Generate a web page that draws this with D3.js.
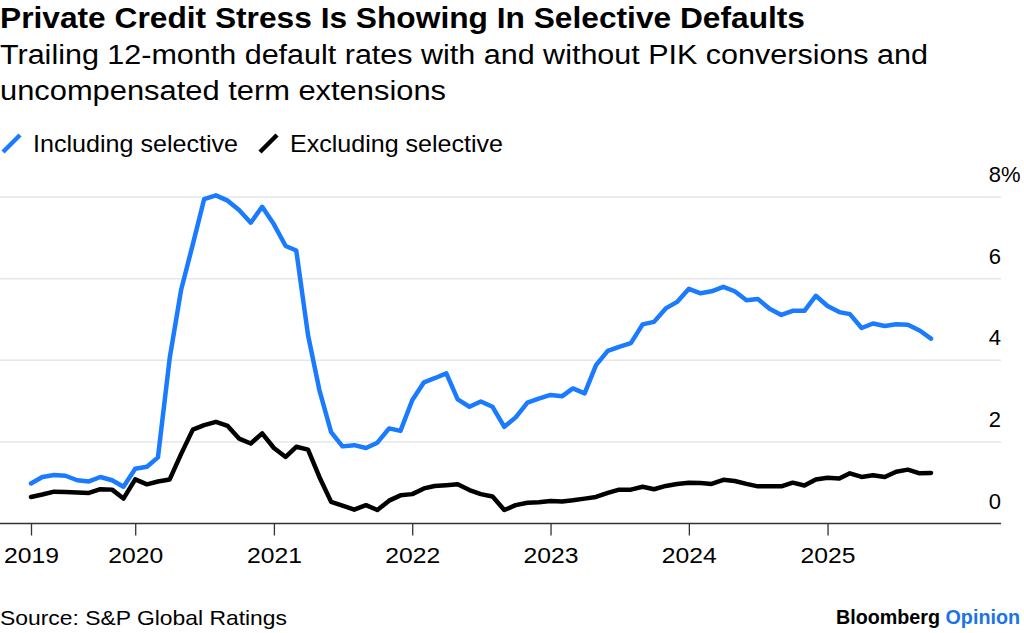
<!DOCTYPE html>
<html lang="en">
<head>
<meta charset="utf-8">
<script src="https://cdn.jsdelivr.net/npm/d3@7"></script>
<style>
  body { margin: 0; background: #fff; }
  svg { font-family: "Liberation Sans", Arial, sans-serif; }
</style>
</head>
<body>
<svg id="chart" width="1024" height="633"></svg>

<script>
  // monthly, Apr 2019 .. Oct 2025
  var startMonth = new Date(2019, 3, 1)
  var endMonth = new Date(2025, 10, 1)
  var months = d3.timeMonth.range(startMonth, endMonth)

  var including = [0.98, 1.14, 1.19, 1.17, 1.06, 1.03, 1.14, 1.06, 0.90, 1.34, 1.39, 1.62,
                   4.05, 5.72, 6.84, 7.95, 8.04, 7.91, 7.68, 7.37, 7.76, 7.33, 6.80, 6.69,
                   4.62, 3.27, 2.24, 1.89, 1.92, 1.85, 1.98, 2.33, 2.27, 3.02, 3.46, 3.56,
                   3.68, 3.04, 2.86, 2.99, 2.86, 2.37, 2.60, 2.96, 3.06, 3.15, 3.12, 3.31,
                   3.19, 3.88, 4.23, 4.33, 4.42, 4.88, 4.94, 5.27, 5.43, 5.75, 5.64, 5.69,
                   5.80, 5.69, 5.47, 5.50, 5.26, 5.11, 5.21, 5.21, 5.58, 5.33, 5.18, 5.13,
                   4.79, 4.90, 4.84, 4.88, 4.87, 4.73, 4.53]

  var excluding = [0.65, 0.71, 0.78, 0.77, 0.76, 0.75, 0.84, 0.83, 0.61, 1.08, 0.96, 1.03,
                   1.08, 1.70, 2.30, 2.41, 2.49, 2.39, 2.08, 1.96, 2.21, 1.85, 1.63, 1.88,
                   1.81, 1.14, 0.53, 0.44, 0.34, 0.45, 0.33, 0.56, 0.69, 0.72, 0.86, 0.92,
                   0.94, 0.96, 0.82, 0.72, 0.66, 0.33, 0.45, 0.51, 0.52, 0.55, 0.54, 0.57,
                   0.61, 0.65, 0.75, 0.83, 0.83, 0.90, 0.84, 0.92, 0.97, 1.00, 0.99, 0.97,
                   1.07, 1.04, 0.97, 0.91, 0.91, 0.91, 1.00, 0.93, 1.08, 1.12, 1.10, 1.23,
                   1.14, 1.18, 1.14, 1.27, 1.32, 1.23, 1.24]

  var xTickDates = [new Date(2019, 3, 1), new Date(2020, 0, 1), new Date(2021, 0, 1), new Date(2022, 0, 1),
                    new Date(2023, 0, 1), new Date(2024, 0, 1), new Date(2025, 0, 1)]
  var xTickLabels = ["2019", "2020", "2021", "2022", "2023", "2024", "2025"]
  var yTicks = [0, 2, 4, 6, 8]

  var seriesNames = ["Including selective", "Excluding selective"]
  var seriesColors = ["#1a7bff", "#000000"]

  var svg = d3.select('#chart')

  var x = d3.scaleTime().domain([startMonth, months[months.length - 1]]).range([31, 931])
  var y = d3.scaleLinear().domain([0, 8]).range([523.5, 197])

  // squeeze text to the width it has in the reference (its font is narrower)
  function fitText(sel, w) {
    sel.attr('textLength', w).attr('lengthAdjust', 'spacingAndGlyphs')
  }

  // titles
  svg.append('text').attr('x', 0).attr('y', 28)
     .attr('font-size', 29).attr('font-weight', 'bold').attr('fill', '#000')
     .text('Private Credit Stress Is Showing In Selective Defaults')
     .call(fitText, 805)
  svg.append('text').attr('x', 0).attr('y', 64)
     .attr('font-size', 27).attr('fill', '#000')
     .text('Trailing 12-month default rates with and without PIK conversions and')
     .call(fitText, 928)
  svg.append('text').attr('x', 0).attr('y', 100)
     .attr('font-size', 27).attr('fill', '#000')
     .text('uncompensated term extensions')
     .call(fitText, 446)

  // legend
  var legendPos = [{x: 3, tx: 33, w: 205}, {x: 260, tx: 290, w: 213}]
  var legend = svg.append('g').attr('id', 'legend')
  legend.selectAll('line').data(seriesNames).enter().append('line')
     .attr('x1', function(d, i) { return legendPos[i].x })
     .attr('y1', 152)
     .attr('x2', function(d, i) { return legendPos[i].x + 17 })
     .attr('y2', 135)
     .attr('stroke', function(d, i) { return seriesColors[i] })
     .attr('stroke-width', 4.5)
  legend.selectAll('text').data(seriesNames).enter().append('text')
     .attr('x', function(d, i) { return legendPos[i].tx })
     .attr('y', 152)
     .attr('font-size', 24)
     .text(function(d) { return d })
     .each(function(d, i) { d3.select(this).call(fitText, legendPos[i].w) })

  // gridlines
  svg.append('g').selectAll('line').data(yTicks.filter(function(d) { return d > 0 })).enter()
     .append('line')
     .attr('x1', 0).attr('x2', 1001)
     .attr('y1', function(d) { return y(d) }).attr('y2', function(d) { return y(d) })
     .attr('stroke', '#e6e6e6').attr('stroke-width', 1.5)

  // y labels sit above their gridline at the right end
  var yl = svg.append('g').attr('font-size', 22).attr('fill', '#000')
  yl.selectAll('text').data(yTicks).enter().append('text')
     .attr('x', 1001).attr('y', function(d) { return y(d) - 15 })
     .attr('text-anchor', 'end')
     .text(function(d) { return d })
  yl.append('text').attr('x', 1001).attr('y', y(8) - 15).text('%')

  // x axis
  var xAxis = d3.axisBottom(x)
     .tickValues(xTickDates)
     .tickFormat(function(d, i) { return xTickLabels[i] })
     .tickSize(12).tickPadding(12).tickSizeOuter(0)
  var gx = svg.append('g').attr('transform', 'translate(0,' + y(0) + ')').call(xAxis)
  gx.select('.domain').attr('d', 'M0,0H1001').attr('stroke', '#333').attr('stroke-width', 1.6)
  gx.selectAll('.tick line').attr('stroke', '#333').attr('stroke-width', 1.3)
  gx.selectAll('.tick text').attr('font-size', 22).attr('fill', '#000')
     .attr('font-family', '"Liberation Sans", Arial, sans-serif')
     .call(fitText, 55)

  // lines
  var line = d3.line()
     .x(function(d, i) { return x(months[i]) })
     .y(function(d) { return y(d) })

  var seriesData = [including, excluding]
  svg.append('g').selectAll('path').data([1, 0]).enter().append('path')
     .attr('d', function(k) { return line(seriesData[k]) })
     .attr('fill', 'none')
     .attr('stroke', function(k) { return seriesColors[k] })
     .attr('stroke-width', 4.5)
     .attr('stroke-linejoin', 'round')
     .attr('stroke-linecap', 'round')

  // footer
  svg.append('text').attr('x', 0).attr('y', 625)
     .attr('font-size', 21).attr('fill', '#000')
     .text('Source: S&P Global Ratings')
     .call(fitText, 287)
  var brand = svg.append('text').attr('x', 836).attr('y', 624)
     .attr('font-size', 20).attr('font-weight', 'bold')
     .call(fitText, 184)
  brand.append('tspan').attr('fill', '#000').text('Bloomberg ')
  brand.append('tspan').attr('fill', '#1a73e8').text('Opinion')
</script>
</body>
</html>
